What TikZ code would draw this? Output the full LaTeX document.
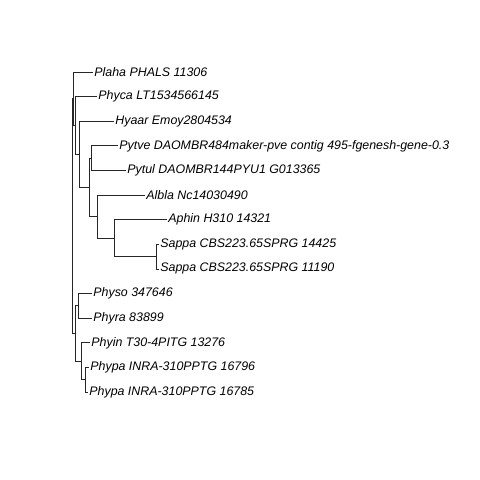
\documentclass[tikz,border=0pt]{standalone}
\usepackage{fontspec}
\setmainfont{Liberation Sans}
\begin{document}
\begin{tikzpicture}[x=1pt,y=-1pt,
  branch/.style={draw=black!85,line width=0.8pt},
  tip/.style={anchor=west,inner xsep=1.2pt,inner ysep=0pt,font=\fontsize{12.4}{14}\selectfont\itshape}]
\useasboundingbox[fill=white] (0,0) rectangle (480,480);
% internal nodes
\coordinate (R)  at (72,216.1);
\coordinate (A)  at (73,98.7);
\coordinate (A2) at (75,125.45);
\coordinate (A3) at (79,154.3);
\coordinate (A4) at (89,187.4);
\coordinate (P)  at (91,158.15);
\coordinate (S)  at (97,216.6);
\coordinate (T)  at (114,238.15);
\coordinate (U)  at (156,256.6);
\coordinate (B)  at (75,333.55);
\coordinate (C)  at (78,305.85);
\coordinate (D)  at (81,361.25);
\coordinate (E)  at (85,379.7);
% tips
\node[tip] (t1)  at (93,72)    {Plaha PHALS 11306};
\node[tip] (t2)  at (97,96.6)  {Phyca LT1534566145};
\node[tip] (t3)  at (114,121.2) {Hyaar Emoy2804534};
\node[tip] (t4)  at (118,145.8) {Pytve DAOMBR484maker-pve contig 495-fgenesh-gene-0.3};
\node[tip] (t5)  at (126,170.5) {Pytul DAOMBR144PYU1 G013365};
\node[tip] (t6)  at (145,195.1) {Albla Nc14030490};
\node[tip] (t7)  at (167,219.7) {Aphin H310 14321};
\node[tip] (t8)  at (159,244.3) {Sappa CBS223.65SPRG 14425};
\node[tip] (t9)  at (159,268.9) {Sappa CBS223.65SPRG 11190};
\node[tip] (t10) at (92,293.5) {Physo 347646};
\node[tip] (t11) at (92,318.2) {Phyra 83899};
\node[tip] (t12) at (90,342.8) {Phyin T30-4PITG 13276};
\node[tip] (t13) at (89,367.4) {Phypa INRA-310PPTG 16796};
\node[tip] (t14) at (88,392)   {Phypa INRA-310PPTG 16785};
% branches
\draw[branch] (R) |- (A);
\draw[branch] (R) |- (B);
\draw[branch] (A) |- (t1.west);
\draw[branch] (A) |- (A2);
\draw[branch] (A2) |- (t2.west);
\draw[branch] (A2) |- (A3);
\draw[branch] (A3) |- (t3.west);
\draw[branch] (A3) |- (A4);
\draw[branch] (A4) |- (P);
\draw[branch] (A4) |- (S);
\draw[branch] (P) |- (t4.west);
\draw[branch] (P) |- (t5.west);
\draw[branch] (S) |- (t6.west);
\draw[branch] (S) |- (T);
\draw[branch] (T) |- (t7.west);
\draw[branch] (T) |- (U);
\draw[branch] (U) |- (t8.west);
\draw[branch] (U) |- (t9.west);
\draw[branch] (B) |- (C);
\draw[branch] (B) |- (D);
\draw[branch] (C) |- (t10.west);
\draw[branch] (C) |- (t11.west);
\draw[branch] (D) |- (t12.west);
\draw[branch] (D) |- (E);
\draw[branch] (E) |- (t13.west);
\draw[branch] (E) |- (t14.west);
\end{tikzpicture}
\end{document}
